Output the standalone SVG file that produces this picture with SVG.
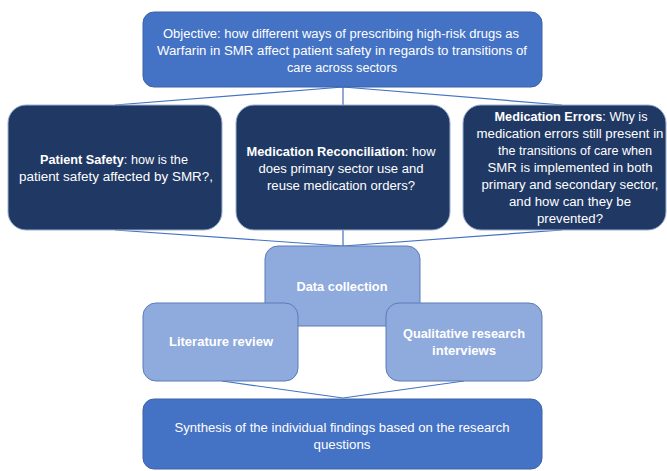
<svg xmlns="http://www.w3.org/2000/svg" width="667" height="471" viewBox="0 0 667 471">
<style>
text{font-family:"Liberation Sans",Arial,sans-serif;font-size:12.5px;fill:#ffffff;text-anchor:middle}
.b{font-weight:bold}
.mid{fill:#4472C4;stroke:#3A62A8;stroke-width:1}
.dark{fill:#203864;stroke:#9DB0D2;stroke-width:1}
.light{fill:#8FAADC;stroke:#5B7CB8;stroke-width:1}
.c{stroke:#4472C4;stroke-width:1.2;fill:none}
</style>
<rect width="667" height="471" fill="#ffffff"/>
<g id="connectors">
<path class="c" d="M343,87 L115,105 M343,87 L343,105 M343,87 L562,105"/>
<path class="c" d="M115,230 L343,246 M343,230 L343,246 M562,230 L343,246"/>
<path class="c" d="M222,381 L343,398 M464,381 L343,398"/>
</g>
<g id="objective">
<rect class="mid" x="143" y="12" width="399" height="75" rx="11"/>
<text x="341" y="38" textLength="356" lengthAdjust="spacingAndGlyphs">Objective: how different ways of prescribing high-risk drugs as</text>
<text x="342" y="55" textLength="370" lengthAdjust="spacingAndGlyphs">Warfarin in SMR affect patient safety in regards to transitions of</text>
<text x="342" y="72" textLength="110" lengthAdjust="spacingAndGlyphs">care across sectors</text>
</g>
<g id="patient-safety">
<rect class="dark" x="8" y="105" width="214" height="125" rx="18"/>
<text x="114" y="164" textLength="148" lengthAdjust="spacingAndGlyphs"><tspan class="b">Patient Safety</tspan>: how is the</text>
<text x="116" y="181" textLength="194" lengthAdjust="spacingAndGlyphs">patient safety affected by SMR?,</text>
</g>
<g id="med-reconciliation">
<rect class="dark" x="236" y="105" width="214" height="125" rx="18"/>
<text x="341" y="156" textLength="189" lengthAdjust="spacingAndGlyphs"><tspan class="b">Medication Reconciliation</tspan>: how</text>
<text x="341" y="173" textLength="165" lengthAdjust="spacingAndGlyphs">does primary sector use  and</text>
<text x="341" y="190" textLength="148" lengthAdjust="spacingAndGlyphs">reuse medication orders?</text>
</g>
<g id="med-errors">
<rect class="dark" x="463" y="105" width="203" height="125" rx="18"/>
<text x="571" y="121" textLength="153" lengthAdjust="spacingAndGlyphs"><tspan class="b">Medication Errors</tspan>: Why is</text>
<text x="570" y="138" textLength="187" lengthAdjust="spacingAndGlyphs">medication errors still present in</text>
<text x="575" y="155" textLength="154" lengthAdjust="spacingAndGlyphs">the transitions of  care when</text>
<text x="570" y="172" textLength="165" lengthAdjust="spacingAndGlyphs">SMR is  implemented in both</text>
<text x="570" y="189" textLength="177" lengthAdjust="spacingAndGlyphs">primary and secondary sector,</text>
<text x="570" y="206" textLength="122" lengthAdjust="spacingAndGlyphs">and how can they be</text>
<text x="570" y="223" textLength="66" lengthAdjust="spacingAndGlyphs">prevented?</text>
</g>
<g id="data-collection">
<rect class="light" x="265" y="246" width="155" height="80" rx="13"/>
<text class="b" x="342" y="291" textLength="91" lengthAdjust="spacingAndGlyphs">Data collection</text>
</g>
<g id="literature-review">
<rect class="light" x="143" y="303" width="155" height="78" rx="13"/>
<text class="b" x="221" y="346" textLength="104" lengthAdjust="spacingAndGlyphs">Literature review</text>
</g>
<g id="qualitative">
<rect class="light" x="386" y="303" width="156" height="78" rx="13"/>
<text class="b" x="464" y="338" textLength="122" lengthAdjust="spacingAndGlyphs">Qualitative research</text>
<text class="b" x="464" y="355" textLength="64" lengthAdjust="spacingAndGlyphs">interviews</text>
</g>
<g id="synthesis">
<rect class="mid" x="143" y="399" width="399" height="70" rx="11"/>
<text x="342" y="432" textLength="335" lengthAdjust="spacingAndGlyphs">Synthesis of the individual findings based on the research</text>
<text x="342" y="449" textLength="57" lengthAdjust="spacingAndGlyphs">questions</text>
</g>
</svg>
